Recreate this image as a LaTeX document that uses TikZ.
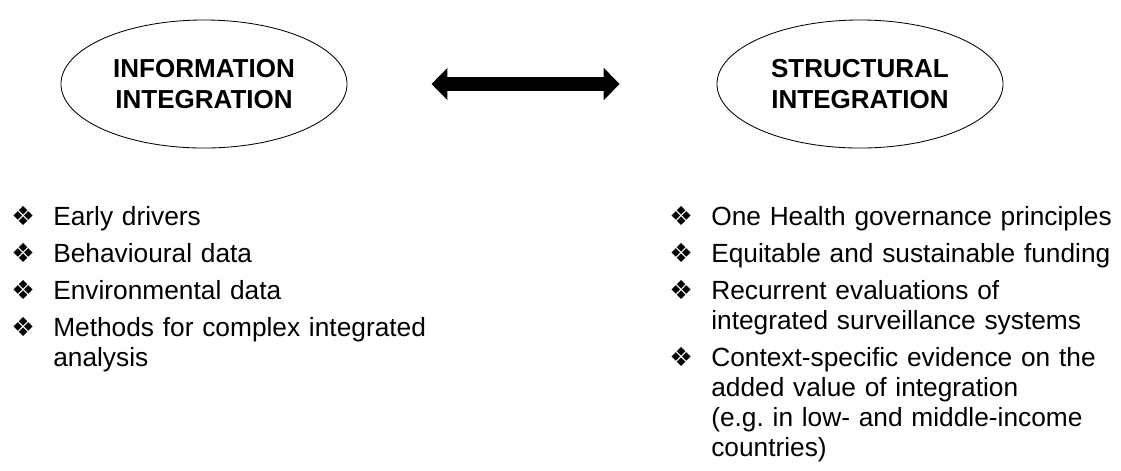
\documentclass[tikz,border=0pt]{standalone}
\usepackage{fontspec}
\setmainfont{Liberation Sans}
\newfontfamily\symfont{DejaVu Sans}
\usetikzlibrary{arrows.meta,shapes.geometric}
\newcommand{\blt}{\makebox[1.05cm][l]{\symfont\char"2756}}
\newcommand{\itm}[1]{\hangindent=1.05cm\hangafter=1\blt #1\par}
\begin{document}
\begin{tikzpicture}[x=0.025cm, y=-0.025cm,
	bubble/.style={draw, line width=0.6pt, ellipse, minimum width=7.15cm, minimum height=3.2cm,
		align=center, font=\fontsize{18.5}{22}\selectfont\bfseries},
	listbox/.style={anchor=north west, inner sep=0pt, text width=11.2cm, align=left,
		font=\fontsize{18.7}{21.3}\selectfont},
	dblarrow/.style={line width=0.35cm, {Triangle[length=0.4cm, width=0.78cm]}-{Triangle[length=0.4cm, width=0.78cm]}}]
	\useasboundingbox (0, 0) rectangle (1121, 470);
	\node[bubble] (info) at (204, 84) {INFORMATION\\INTEGRATION};
	\node[bubble] (struct) at (860, 84) {STRUCTURAL\\INTEGRATION};
	\draw[dblarrow, shorten <=2.1cm, shorten >=2.42cm] (info) -- (struct);
	\node[listbox] (infolist) at (11, 206) {\setlength{\parskip}{5pt}%
		\itm{Early drivers}
		\itm{Behavioural data}
		\itm{Environmental data}
		\itm{Methods for complex integrated analysis}};
	\node[listbox] (structlist) at (669, 206) {\setlength{\parskip}{5pt}%
		\itm{One Health governance principles}
		\itm{Equitable and sustainable funding}
		\itm{Recurrent evaluations of\newline integrated surveillance systems}
		\itm{Context-specific evidence on the\newline added value of integration\newline (e.g.\ in low- and middle-income\newline countries)}};
\end{tikzpicture}
\end{document}
